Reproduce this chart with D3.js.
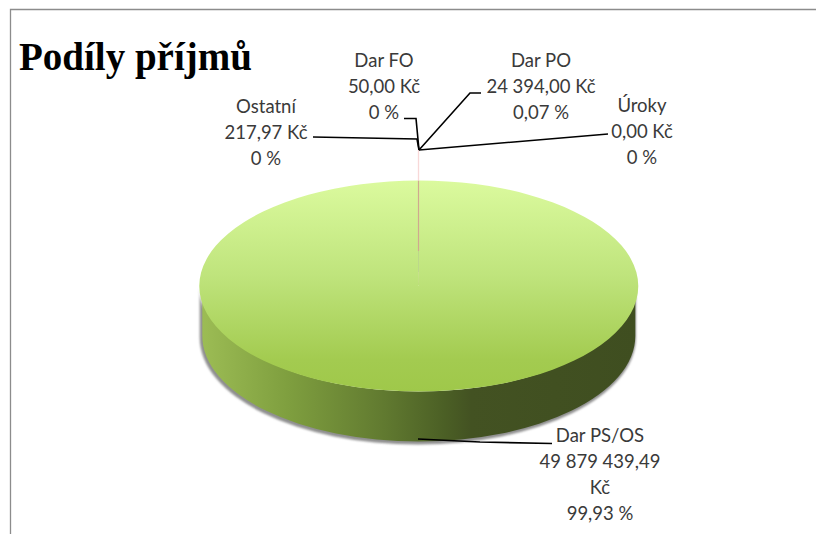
<!DOCTYPE html>
<html>
<head>
<meta charset="utf-8">
<script src="https://cdn.jsdelivr.net/npm/d3@7"></script>
<style>
html,body{margin:0;padding:0;background:#fff;overflow:hidden}
svg{display:block}
</style>
</head>
<body>
<svg id="chart" width="816" height="534"></svg>
<script>
const titleText = "Podíly příjmů";
const categories = ["Dar PS/OS", "Úroky", "Dar PO", "Dar FO", "Ostatní"];
const values = [49879439.49, 0, 24394, 50, 217.97];
const amountLabels = [["49 879 439,49", "Kč"], ["0,00 Kč"], ["24 394,00 Kč"], ["50,00 Kč"], ["217,97 Kč"]];
const percentLabels = ["99,93 %", "0 %", "0,07 %", "0 %", "0 %"];

const labelLayout = [
  {x: 600, y: 442, leader: [[418, 439], [480, 442], [552, 443.5]]},
  {x: 642, y: 112, leader: [[419, 150], [608, 134]]},
  {x: 541, y: 67,  leader: [[419, 150], [470, 93], [481, 93]]},
  {x: 384, y: 67,  leader: [[419, 150], [416, 118.5], [404, 118.5]]},
  {x: 266, y: 113, leader: [[419, 150], [417, 139], [313, 137]]}
];

const W = 816, H = 534;
const cx = 418.8, cy = 286, rx = 219.5, ry = 105.5, depth = 50, inset = 3;
const svg = d3.select("#chart");
const defs = svg.append("defs");

function gradient(id, attrs, stops) {
  const g = defs.append("linearGradient").attr("id", id).attr("gradientUnits", "userSpaceOnUse");
  Object.entries(attrs).forEach(([k, v]) => g.attr(k, v));
  stops.forEach(s => g.append("stop").attr("offset", s[0]).attr("stop-color", s[1]));
}
// the face is drawn in a group scaled to a flat ellipse, so its gradient runs over the unscaled radius
gradient("top", {x1: 0, x2: 0, y1: -rx, y2: rx},
  [[0, "#dbfa9e"], [0.45, "#bfe47c"], [0.85, "#a3cb50"], [1, "#9fc84a"]]);
gradient("side", {x1: cx - rx, x2: cx + rx, y1: 0, y2: 0},
  [[0, "#9dbd55"], [0.2, "#7f9f3f"], [0.42, "#617a30"], [0.56, "#4b5f25"], [0.62, "#435222"], [1, "#3f4e20"]]);
const blur = defs.append("filter").attr("id", "soft").attr("x", "-5%").attr("y", "-5%").attr("width", "110%").attr("height", "110%");
blur.append("feGaussianBlur").attr("stdDeviation", 1.2);

// frame
svg.append("path")
  .attr("d", `M10.5 ${H} V9.5 H${W}`)
  .attr("fill", "none").attr("stroke", "#8c8c8c").attr("stroke-width", 1.3);

// body shape of the disc: the lower rim is slightly narrower than the face
const bodyPath = (dx, dy, grow) => {
  const l = cx - rx + inset + dx - grow, r = cx + rx - inset + dx + grow;
  const a = rx - inset + grow, b = ry + grow;
  return `M${l} ${cy + dy} L${l} ${cy + dy + depth} A${a} ${b} 0 0 0 ${r} ${cy + dy + depth} L${r} ${cy + dy} A${a} ${b} 0 0 1 ${l} ${cy + dy} Z`;
};
svg.append("path").attr("d", bodyPath(-1, 1.5, 1.6)).attr("fill", "#8f8f8f").attr("filter", "url(#soft)");
svg.append("path").attr("d", bodyPath(0, 0, 0)).attr("fill", "url(#side)");

// pie faces
const pieGen = d3.pie().sort(null).value(d => d).startAngle(0).endAngle(2 * Math.PI);
const arcs = pieGen(values);
const arcGen = d3.arc().innerRadius(0).outerRadius(rx);
const sliceColors = ["url(#top)", "#d7b2a8", "#d7b2a8", "#d7b2a8", "#d7b2a8"];
const pieG = svg.append("g").attr("transform", `translate(${cx},${cy}) scale(1,${ry / rx})`);
pieG.selectAll("path").data(arcs).join("path")
  .attr("d", arcGen)
  .attr("fill", (d, i) => sliceColors[i]);

// fine split line running from the rim towards the centre
const splitTop = cy - ry;
svg.append("line").attr("x1", cx - 0.3).attr("x2", cx - 0.3).attr("y1", splitTop).attr("y2", cy - 35)
  .attr("stroke", "#cfa98f").attr("stroke-width", 1.2);
svg.append("line").attr("x1", cx - 0.3).attr("x2", cx - 0.3).attr("y1", cy - 35).attr("y2", cy - 14)
  .attr("stroke", "#bcd88a").attr("stroke-width", 1);
svg.append("line").attr("x1", cx - 0.3).attr("x2", cx - 0.3).attr("y1", 150).attr("y2", splitTop)
  .attr("stroke", "#f8d8d8").attr("stroke-width", 1.3);

// leaders
const lineGen = d3.line();
svg.append("g").selectAll("path").data(labelLayout).join("path")
  .attr("d", d => lineGen(d.leader))
  .attr("fill", "none").attr("stroke", "#000").attr("stroke-width", 1.6);

// labels
const labelG = svg.append("g")
  .attr("font-family", "Lato, 'Open Sans', sans-serif")
  .attr("font-size", 18.5).attr("fill", "#3a3a3a").attr("text-anchor", "middle");
categories.forEach((c, i) => {
  const lines = [c, ...amountLabels[i], percentLabels[i]];
  const t = labelG.append("text");
  lines.forEach((s, j) => t.append("tspan").attr("x", labelLayout[i].x).attr("y", labelLayout[i].y + j * 26).text(s));
});

// title
svg.append("text").attr("x", 19).attr("y", 70)
  .attr("font-family", "'Liberation Serif', serif").attr("font-weight", 700)
  .attr("font-size", 39).attr("fill", "#000").text(titleText);
</script>
</body>
</html>
